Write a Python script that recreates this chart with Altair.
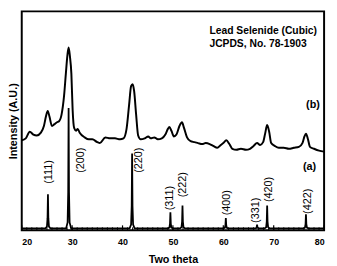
import altair as alt
import pandas as pd

# ---- pattern (b): synthesized sample (two-theta, intensity in arbitrary units)
b_theta = [20.0, 20.8, 21.6, 22.3, 23.0, 23.8, 24.4, 24.8, 25.15, 25.5, 26.0, 26.5,
           27.0, 27.4, 27.9, 28.4, 28.75, 29.05, 29.3, 29.55, 29.85, 30.1, 30.4, 30.8,
           31.1, 31.5, 32.5, 33.3, 34.0, 35.0, 35.5, 36.6, 37.5, 38.5, 39.5, 40.2,
           40.8, 41.3, 41.7, 42.0, 42.3, 42.7, 43.1, 43.6, 44.4, 45.1, 45.6, 46.3,
           47.0, 47.8, 48.5, 49.0, 49.3, 49.7, 50.2, 50.7, 51.3, 51.8, 52.2, 52.8,
           53.5, 54.3, 55.0, 55.8, 56.5, 57.3, 58.0, 58.8, 59.5, 60.0, 60.6, 61.2,
           61.8, 62.6, 63.5, 64.5, 65.3, 66.0, 66.7, 67.3, 67.9, 68.3, 68.7, 69.1,
           69.5, 70.2, 71.0, 72.0, 73.0, 74.0, 75.0, 75.7, 76.1, 76.4, 76.8, 77.2,
           78.0, 79.0, 80.0]
b_int = [95, 97, 104, 101, 100, 103, 110, 120, 126, 120, 110, 112,
         114, 115, 122, 142, 165, 184, 193, 184, 165, 127, 108, 105,
         107, 103, 98, 96, 96, 93, 92, 98, 97, 97, 96, 97,
         107, 132, 152, 154, 147, 122, 100, 96, 97, 99, 97, 98,
         96, 97, 101, 107, 109, 105, 99, 101, 110, 114, 108, 98,
         94, 93, 92, 91, 92, 91, 89, 87, 90, 92, 95, 91,
         86, 85, 86, 85, 86, 89, 92, 90, 93, 102, 111, 104,
         92, 89, 87, 87, 86, 87, 88, 92, 99, 102, 96, 88,
         86, 84, 83]

# ---- pattern (a): JCPDS 78-1903 reference lines
a_peak_theta = [25.2, 29.3, 41.9, 49.5, 51.9, 60.5, 66.7, 68.7, 76.4]
a_peak_int = [38, 129, 81, 19, 26, 13, 6, 26, 17]
a_baseline = 2
peak_labels = ["(111)", "(200)", "(220)", "(311)", "(222)", "(400)", "(331)", "(420)", "(422)"]
label_theta = [25.34, 31.77, 43.35, 49.46, 52.03, 60.71, 66.5, 69.07, 76.78]
label_int = [61.5, 74, 74, 34, 48, 29, 21, 43, 30.5]

major_ticks = [20, 30, 40, 50, 60, 70, 80]
minor_ticks = list(range(20, 81))

# ---- tables
df_b = pd.DataFrame({"theta": b_theta, "intensity": b_int})

shape_dx = [-0.5, -0.2, -0.08, 0.0, 0.08, 0.2, 0.5]
shape_fr = [0.0, 0.05, 0.3, 1.0, 0.3, 0.05, 0.0]
a_rows = [(20.0, a_baseline)]
for t, h in zip(a_peak_theta, a_peak_int):
    for dx, fr in zip(shape_dx, shape_fr):
        a_rows.append((t + dx, a_baseline + fr * (h - a_baseline)))
a_rows.append((80.0, a_baseline))
df_a = pd.DataFrame(a_rows, columns=["theta", "intensity"])

df_lab = pd.DataFrame({"theta": label_theta, "intensity": label_int, "label": peak_labels})
df_notes = pd.DataFrame({"theta": [57.24, 57.24], "intensity": [210.3, 197.0],
                         "label": ["Lead Selenide (Cubic)", "JCPDS, No. 78-1903"]})
df_ab = pd.DataFrame({"theta": [77.1, 77.8], "intensity": [67, 132], "label": ["(a)", "(b)"]})

W, H = 308, 223
FONT = "Liberation Sans"

x_enc = alt.X("theta:Q",
              scale=alt.Scale(domain=[20, 80], nice=False, zero=False),
              axis=alt.Axis(values=major_ticks, title="Two theta", grid=False, domain=False,
                            ticks=False, tickSize=0, labelPadding=7, labelFontSize=9,
                            labelFontWeight="bold", labelFont=FONT, labelColor="black",
                            titleFont=FONT, titleFontSize=11, titleFontWeight="bold",
                            titleColor="black", titlePadding=8, format="d"))
y_enc = alt.Y("intensity:Q",
              scale=alt.Scale(domain=[0, 231], nice=False, zero=False),
              axis=alt.Axis(labels=False, ticks=False, grid=False, domain=False,
                            title="Intensity (A.U.)", titleFont=FONT, titleFontSize=11,
                            titleFontWeight="bold", titleColor="black", titlePadding=3))

line_b = alt.Chart(df_b).mark_line(color="black", strokeWidth=2, interpolate="monotone").encode(x=x_enc, y=y_enc)
line_a = alt.Chart(df_a).mark_line(color="black", strokeWidth=1.8).encode(x=x_enc, y=y_enc)

minor = alt.Chart(pd.DataFrame({"theta": minor_ticks})).mark_rule(color="black", strokeWidth=1).encode(
    x=x_enc, y=alt.value(H), y2=alt.value(H - 3))
major = alt.Chart(pd.DataFrame({"theta": major_ticks})).mark_rule(color="black", strokeWidth=1.2).encode(
    x=x_enc, y=alt.value(H), y2=alt.value(H - 5))

labels = alt.Chart(df_lab).mark_text(angle=270, align="center", baseline="middle",
                                     font=FONT, fontSize=11, color="black").encode(
    x=x_enc, y=y_enc, text="label:N")
notes = alt.Chart(df_notes).mark_text(align="left", baseline="middle", font=FONT,
                                      fontSize=10.5, fontWeight="bold", color="black").encode(
    x=x_enc, y=y_enc, text="label:N")
ab = alt.Chart(df_ab).mark_text(align="center", baseline="middle", font=FONT,
                                fontSize=11, fontWeight="bold", color="black").encode(
    x=x_enc, y=y_enc, text="label:N")

chart = alt.layer(line_b, line_a, minor, major, labels, notes, ab).properties(
    width=W, height=H,
    autosize=alt.AutoSizeParams(type="none"),
    padding={"left": 14, "top": 1, "right": 5, "bottom": 36},
).configure_view(stroke="black", strokeWidth=2)

chart.save("out.html", embed_options={"renderer": "svg", "actions": False})
